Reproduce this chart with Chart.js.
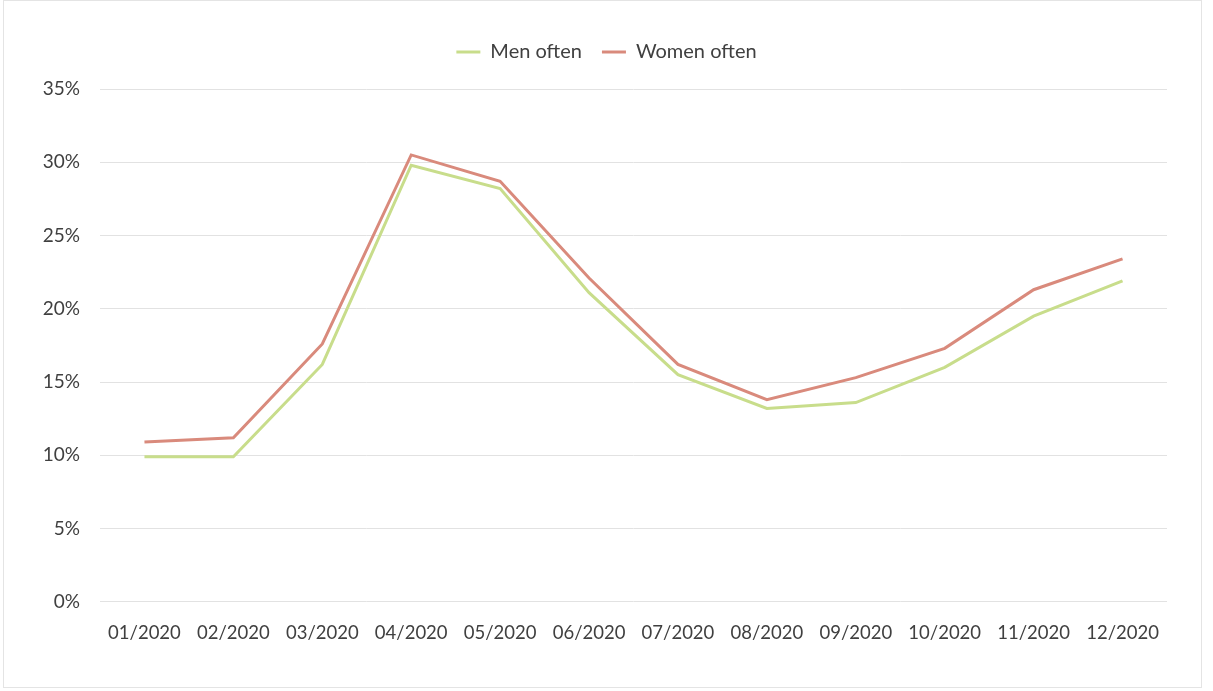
<!DOCTYPE html>
<html>
<head>
<meta charset="utf-8">
<script src="https://cdn.jsdelivr.net/npm/chart.js@4/dist/chart.umd.min.js"></script>
<style>
  html, body { margin: 0; padding: 0; background: #ffffff; }
  #frame {
    position: absolute; left: 3px; top: 0; width: 1199px; height: 688px;
    border: 1px solid #e4e4e4; box-sizing: border-box;
  }
  #wrap { position: absolute; left: 0; top: 0; width: 1213px; height: 691px; }
</style>
</head>
<body>
<div id="frame"></div>
<div id="wrap"><canvas id="c" width="1213" height="691"></canvas></div>
<script>
// Monthly shares (percent) of men and women answering "often", 2020
const months = ['01/2020', '02/2020', '03/2020', '04/2020', '05/2020', '06/2020',
                '07/2020', '08/2020', '09/2020', '10/2020', '11/2020', '12/2020'];
const menOften   = [9.9, 9.9, 16.2, 29.8, 28.2, 21.1, 15.5, 13.2, 13.6, 16.0, 19.5, 21.9];
const womenOften = [10.9, 11.2, 17.6, 30.5, 28.7, 22.1, 16.2, 13.8, 15.3, 17.3, 21.3, 23.4];
const yTicks = [0, 5, 10, 15, 20, 25, 30, 35];

const FONT = 'Lato, "Open Sans", sans-serif';

// Extra space between the legend row and the plot area
const legendGap = {
  id: 'legendGap',
  afterInit(chart) {
    const lg = chart.legend;
    if (!lg) return;
    const fit = lg.fit.bind(lg);
    lg.fit = function () { fit(); this.height += 17; };
  }
};

new Chart(document.getElementById('c'), {
  type: 'line',
  data: {
    labels: months,
    datasets: [
      { label: 'Men often', data: menOften, borderColor: '#c8dd8b', backgroundColor: '#c8dd8b',
        borderWidth: 3, pointRadius: 0, tension: 0 },
      { label: 'Women often', data: womenOften, borderColor: '#d98a7c', backgroundColor: '#d98a7c',
        borderWidth: 3, pointRadius: 0, tension: 0 }
    ]
  },
  plugins: [legendGap],
  options: {
    responsive: false,
    animation: false,
    layout: { padding: { top: 22, right: 0, bottom: 35, left: 0 } },
    plugins: {
      tooltip: { enabled: false },
      legend: {
        position: 'top',
        labels: {
          usePointStyle: true,
          pointStyle: 'line',
          pointStyleWidth: 24,
          color: '#404040',
          font: { family: FONT, size: 20 },
          padding: 20
        }
      }
    },
    scales: {
      x: {
        offset: true,
        grid: { display: false },
        border: { display: false },
        ticks: { color: '#404040', font: { family: FONT, size: 18.5 }, padding: 12, maxRotation: 0, autoSkip: false }
      },
      y: {
        min: 0, max: 35,
        afterFit: (s) => { s.width = 100; },
        afterBuildTicks: (s) => { s.ticks = yTicks.map(v => ({ value: v })); },
        grid: { color: '#e2e2e2', lineWidth: 1, drawTicks: false },
        border: { display: false },
        ticks: { color: '#404040', font: { family: FONT, size: 19 }, padding: 20,
                 callback: (v) => v + '%' }
      },
      // empty right-hand margin so the legend stays centred on the page
      yRight: {
        position: 'right',
        min: 0, max: 35,
        afterFit: (s) => { s.width = 46; },
        grid: { display: false },
        border: { display: false },
        ticks: { display: false }
      }
    }
  }
});
</script>
</body>
</html>
